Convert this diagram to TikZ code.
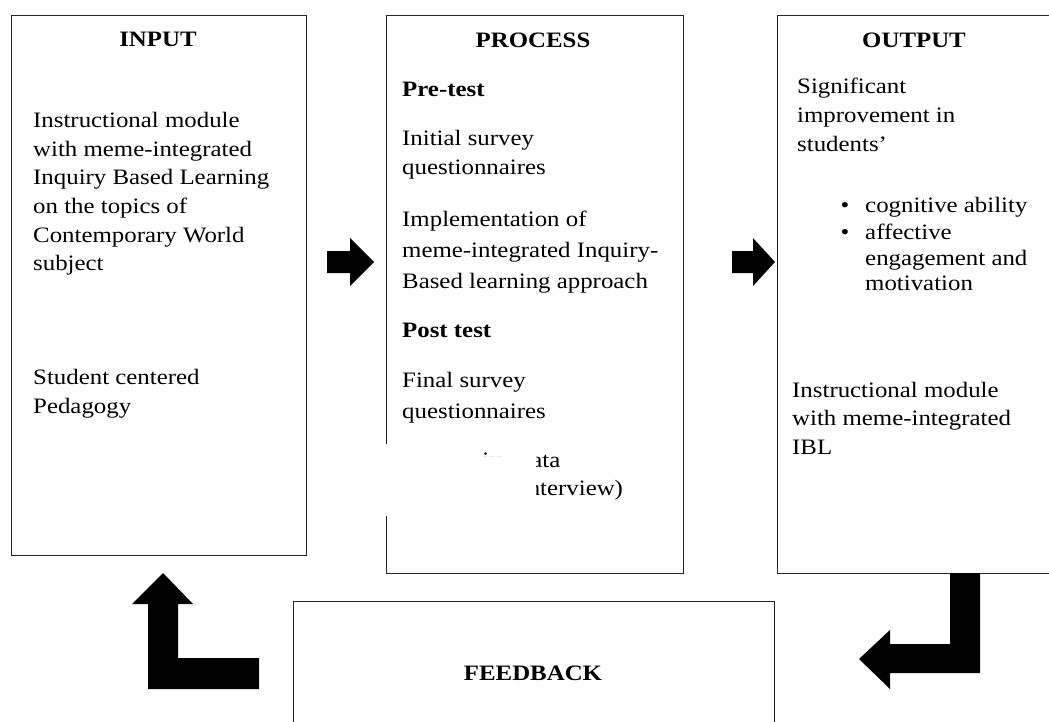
\documentclass[tikz,border=0pt]{standalone}
\usepackage{fontspec}
\setmainfont[FakeStretch=1.13]{Liberation Serif}
\begin{document}
\begin{tikzpicture}[x=1pt,y=-1pt,
  font=\fontsize{22}{28}\selectfont,
  box/.style={draw=black!85, line width=1.2pt, fill=none, inner sep=0pt, anchor=north west},
  ttl/.style={font=\fontsize{22}{28}\selectfont\bfseries, inner sep=0pt, anchor=base},
  txt/.style={inner sep=0pt, anchor=base west},
  btxt/.style={txt, font=\fontsize{22}{28}\selectfont\bfseries},
  blk/.style={fill=black, draw=none}]
\useasboundingbox (0,0) rectangle (1049,722);
\clip (0,0) rectangle (1049,722);

% boxes
\node[box, minimum width=295pt, minimum height=540pt] (inbox) at (11,15) {};
\node[box, minimum width=297pt, minimum height=558pt] (procbox) at (386,15) {};
\node[box, minimum width=300pt, minimum height=558pt] (outbox) at (777,15) {};
\node[box, minimum width=481pt, minimum height=150pt] (fbbox) at (293,601) {};

% INPUT
\node[ttl] (inttl) at (158,47) {INPUT};
\node[txt] (in1) at (33,128) {Instructional module};
\node[txt] (in2) at (33,157) {with meme-integrated};
\node[txt] (in3) at (33,185) {Inquiry Based Learning};
\node[txt] (in4) at (33,214) {on the topics of};
\node[txt] (in5) at (33,242) {Contemporary World};
\node[txt] (in6) at (33,270) {subject};
\node[txt] (in7) at (33,384) {Student centered};
\node[txt] (in8) at (33,413) {Pedagogy};

% PROCESS
\node[ttl] (prttl) at (533,48) {PROCESS};
\node[btxt] (pr1) at (402,97) {Pre-test};
\node[txt] (pr2) at (402,146) {Initial survey};
\node[txt] (pr3) at (402,175) {questionnaires};
\node[txt] (pr4) at (402,226) {Implementation of};
\node[txt] (pr5) at (402,257) {meme-integrated Inquiry-};
\node[txt] (pr6) at (402,288) {Based learning approach};
\node[btxt] (pr7) at (402,337) {Post test};
\node[txt] (pr8) at (402,387) {Final survey};
\node[txt] (pr9) at (402,418) {questionnaires};
\node[txt] (pr10) at (402,467) {Qualitative data};
\node[txt] (pr11) at (511,495) {(Interview)};
% white patch over part of the process box
\fill[white] (383,444) -- (483,444) -- (483,457) -- (502,457) -- (502,444)
  -- (536,444) -- (536,516) -- (383,516) -- cycle;

% OUTPUT
\node[ttl] (outttl) at (914,48) {OUTPUT};
\node[txt] (o1) at (797,94) {Significant};
\node[txt] (o2) at (797,123) {improvement in};
\node[txt] (o3) at (797,152) {students'};
\node[inner sep=0pt, anchor=base] (b1) at (845,213) {•};
\node[txt] (o4) at (865,213) {cognitive ability};
\node[inner sep=0pt, anchor=base] (b2) at (845,239) {•};
\node[txt] (o5) at (865,239) {affective};
\node[txt] (o6) at (865,265) {engagement and};
\node[txt] (o7) at (865,290) {motivation};
\node[txt] (o8) at (792,397) {Instructional module};
\node[txt] (o9) at (792,425) {with meme-integrated};
\node[txt] (o10) at (792,454) {IBL};

% FEEDBACK
\node[ttl] (fbttl) at (533,680) {FEEDBACK};

% block arrows
\fill[blk] (327,251) -- (350,251) -- (350,238) -- (374,262) -- (350,286)
  -- (350,273) -- (327,273) -- cycle;
\fill[blk] (732,251) -- (753,251) -- (753,238) -- (775,262) -- (753,286)
  -- (753,273) -- (732,273) -- cycle;
\fill[blk] (163,573) -- (193,604) -- (178,604) -- (178,658) -- (259,658)
  -- (259,689) -- (148,689) -- (148,604) -- (132,604) -- cycle;
\fill[blk] (950,573) -- (980,573) -- (980,673) -- (890,673) -- (890,689)
  -- (859,659) -- (890,630) -- (890,644) -- (950,644) -- cycle;
\end{tikzpicture}
\end{document}
